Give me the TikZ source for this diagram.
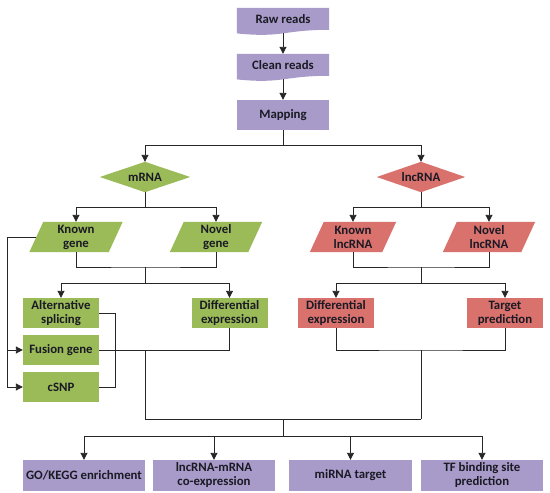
\documentclass[tikz,border=0pt]{standalone}
\usepackage{fontspec}
\setmainfont{Carlito}
\usetikzlibrary{arrows.meta,calc,backgrounds}
\definecolor{cpur}{HTML}{A99BC9}
\definecolor{cgrn}{HTML}{9BBB59}
\definecolor{cred}{HTML}{D9716D}
\definecolor{cline}{HTML}{262626}
\definecolor{ctext}{HTML}{1A1A24}
\begin{document}
\begin{tikzpicture}[x=1pt,y=-1pt,
 every node/.style={font=\bfseries\fontsize{12.8}{14}\selectfont, align=center, inner sep=0pt, text=ctext},
 rbox/.style={rectangle, minimum width=76pt, minimum height=30pt},
 pbox/.style={rectangle, minimum width=122pt, minimum height=31pt, fill=cpur},
 docbox/.style={rectangle, minimum width=92pt, minimum height=21.6pt},
 dbox/.style={rectangle, minimum width=90pt, minimum height=30pt},
 para/.style={rectangle, minimum height=30pt},
 ln/.style={draw=cline, line width=0.9pt},
 arr/.style={ln, -{Triangle[width=7pt,length=7pt]}}
]
\useasboundingbox (0,0) rectangle (550,493);
% nodes
\node[docbox] (raw) at (283,18.8) {Raw reads};
\node[docbox] (clean) at (283,64.8) {Clean reads};
\node[rbox, minimum width=92pt, fill=cpur] (map) at (283,115) {Mapping};
\node[dbox] (mrna) at (145,177) {mRNA};
\node[dbox, minimum width=88pt] (lnc) at (421,177) {lncRNA};
\node[para, minimum width=79pt] (kg) at (76,237) {Known\\gene};
\node[para, minimum width=78pt] (ng) at (216,237) {Novel\\gene};
\node[para, minimum width=72pt] (kl) at (353,237) {Known\\lncRNA};
\node[para, minimum width=78pt] (nl) at (489,237) {Novel\\lncRNA};
\node[rbox, fill=cgrn] (as) at (61,313) {Alternative\\splicing};
\node[rbox, fill=cgrn] (de) at (229.5,313) {Differential\\expression};
\node[rbox, fill=cgrn] (fg) at (61,350) {Fusion gene};
\node[rbox, fill=cgrn] (cs) at (61,387) {cSNP};
\node[rbox, fill=cred] (rde) at (336,313) {Differential\\expression};
\node[rbox, fill=cred] (tp) at (505,313) {Target\\prediction};
\node[pbox] (go) at (84,475.5) {GO/KEGG enrichment};
\node[pbox] (lm) at (214,475.5) {lncRNA-mRNA\\co-expression};
\node[pbox, minimum width=123pt] (mi) at (350.5,475.5) {miRNA target};
\node[pbox] (tf) at (482,475.5) {TF binding site\\prediction};
% shapes
\begin{scope}[on background layer]
\foreach \n in {raw,clean}
  \fill[cpur] (\n.north west) -- (\n.north east) -- (\n.south east)
    .. controls (\n.south) and ($(\n.south)+(0,8.3)$) .. ($(\n.south west)+(0,3.6)$) -- cycle;
\fill[cgrn] (mrna.north) -- (mrna.east) -- (mrna.south) -- (mrna.west) -- cycle;
\fill[cred] (lnc.north) -- (lnc.east) -- (lnc.south) -- (lnc.west) -- cycle;
\foreach \n/\c in {kg/cgrn, ng/cgrn, kl/cred, nl/cred}
  \fill[\c] ($(\n.north west)+(7,0)$) -- ($(\n.north east)+(7,0)$) -- ($(\n.south east)+(-7,0)$) -- ($(\n.south west)+(-7,0)$) -- cycle;
\end{scope}
% connectors
\draw[arr, shorten <=3.5pt] (raw.south) -- (clean.north);
\draw[arr, shorten <=3.5pt] (clean.south) -- (map.north);
\coordinate (j1) at (283,145);
\draw[ln] (map.south) -- (j1);
\draw[arr] (j1) -| (mrna.north);
\draw[arr] (j1) -| (lnc.north);
\coordinate (j2) at (145,207);
\draw[ln] (mrna.south) -- (j2);
\draw[arr] (j2) -| (kg.north);
\draw[arr] (j2) -| (ng.north);
\coordinate (j3) at (421,207);
\draw[ln] (lnc.south) -- (j3);
\draw[arr] (j3) -| (kl.north);
\draw[arr] (j3) -| (nl.north);
\coordinate (j4) at (145,267);
\coordinate (j5) at (145,283);
\draw[ln] (kg.south) |- (j4) -| (ng.south);
\draw[ln] (j4) -- (j5);
\draw[arr] (j5) -| (as.north);
\draw[arr] (j5) -| (de.north);
\coordinate (j6) at (421,267);
\coordinate (j7) at (421,283);
\draw[ln] (kl.south) |- (j6) -| (nl.south);
\draw[ln] (j6) -- (j7);
\draw[arr] (j7) -| (rde.north);
\draw[arr] (j7) -| (tp.north);
\coordinate (c1) at (7,237);
\draw[ln] (kg.west) -- (c1);
\draw[arr] (c1) |- (fg.west);
\draw[arr] (c1) |- (cs.west);
\coordinate (b1) at (115,313);
\draw[ln] (as.east) -- (b1) |- (cs.east);
\draw[ln] (fg.east) -| (de.south);
\coordinate (m1) at (145,350);
\coordinate (m2) at (145,419);
\draw[ln] (m1) -- (m2);
\coordinate (l1) at (421,350);
\coordinate (l2) at (421,419);
\draw[ln] (rde.south) |- (l1) -| (tp.south);
\draw[ln] (l1) -- (l2);
\draw[ln] (m2) -- (l2);
\coordinate (k1) at (283,419);
\coordinate (k2) at (283,436);
\draw[ln] (k1) -- (k2);
\foreach \n in {go,lm,mi,tf}
  \draw[arr] (k2) -| (\n.north);
\end{tikzpicture}
\end{document}
